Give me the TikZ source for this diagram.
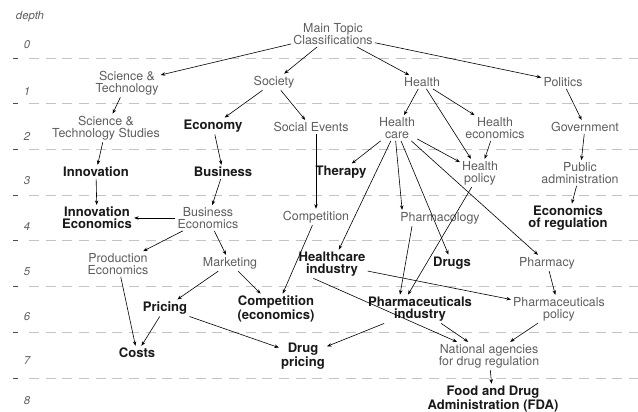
\documentclass[tikz,border=0pt]{standalone}
\usepackage{fontspec}
\setmainfont{TeX Gyre Heros}
\usetikzlibrary{arrows.meta}

\definecolor{topicgray}{HTML}{5E5E5E}
\definecolor{rulegray}{HTML}{C4C4C4}
\tikzset{
    topic/.style={text=topicgray, align=center, inner sep=1.5pt,
        font=\fontsize{9.3}{9}\selectfont},
    keytopic/.style={text=black!90, align=center, inner sep=1.5pt,
        font=\fontsize{9.8}{8.8}\selectfont\bfseries},
    link/.style={-{Stealth[length=3.4pt,width=2.6pt]}, line width=0.45pt},
    levelrule/.style={rulegray, line width=0.6pt, dash pattern=on 7.5pt off 5pt},
    depthlabel/.style={text=topicgray, font=\fontsize{8.5}{9}\selectfont\itshape}
}

\begin{document}
\begin{tikzpicture}[x=0.75pt, y=-0.75pt]
    \useasboundingbox (0,0) rectangle (638,411);

    % depth scale
    \node [depthlabel] (depth) at (30,17) {depth};
    \foreach \k/\y in {0/45, 1/91, 2/136, 3/181, 4/226, 5/272, 6/317, 7/361, 8/401}
        \node [depthlabel] (d\k) at (27,\y) {\k};
    \foreach \y in {58, 103.7, 149.4, 195, 240.8, 286.5, 332, 378} {
        \draw [levelrule] (29,\y) -- (638,\y);
        \draw [black!70, line width=0.6pt] (13,\y) -- (18,\y);
    }

    % depth 0 and 1
    \node [topic] (main) at (333,34) {Main Topic\\Classifications};
    \node [topic] (scitech) at (127,83) {Science \&\\Technology};
    \node [topic] (society) at (274,82) {Society};
    \node [topic] (health) at (422,82) {Health};
    \node [topic] (politics) at (563,82) {Politics};

    % depth 2
    \node [topic] (sts) at (106,128) {Science \&\\Technology Studies};
    \node [keytopic] (economy) at (213,126) {Economy};
    \node [topic] (socevents) at (311,127) {Social Events};
    \node [topic] (hcare) at (397,128) {Health\\care};
    \node [topic] (hecon) at (495,128) {Health\\economics};
    \node [topic] (govt) at (585,127) {Government};

    % depth 3
    \node [keytopic] (innov) at (96,172) {Innovation};
    \node [keytopic] (business) at (223,172) {Business};
    \node [keytopic] (therapy) at (341,172) {Therapy};
    \node [topic] (hpolicy) at (480,173) {Health\\policy};
    \node [topic] (padmin) at (580,173) {Public\\administration};

    % depth 4
    \node [keytopic] (innovecon) at (97,218) {Innovation\\Economics};
    \node [topic] (busecon) at (208,218) {Business\\Economics};
    \node [topic] (compet) at (316,217) {Competition};
    \node [topic] (pharmacol) at (440,218) {Pharmacology};
    \node [keytopic] (econreg) at (568,218) {Economics\\of regulation};

    % depth 5
    \node [topic] (prodecon) at (118,264) {Production\\Economics};
    \node [topic] (marketing) at (230,263) {Marketing};
    \node [keytopic] (hcind) at (332,264) {Healthcare\\industry};
    \node [keytopic] (drugs) at (452,263) {Drugs};
    \node [topic] (pharmacy) at (547,263) {Pharmacy};

    % depth 6
    \node [keytopic] (pricing) at (165,308) {Pricing};
    \node [keytopic] (competecon) at (276,309) {Competition\\(economics)};
    \node [keytopic] (phind) at (420,309) {Pharmaceuticals\\industry};
    \node [topic] (phpolicy) at (559,309) {Pharmaceuticals\\policy};

    % depth 7 and 8
    \node [keytopic] (costs) at (137,353) {Costs};
    \node [keytopic] (drugpricing) at (303,356) {Drug\\pricing};
    \node [topic] (natagency) at (489,356) {National agencies\\for drug regulation};
    \node [keytopic] (fda) at (493,399) {Food and Drug\\Administration (FDA)};

    % links
    \draw [link] (main) -- (scitech);
    \draw [link] (main) -- (society);
    \draw [link] (main) -- (health);
    \draw [link] (main) -- (politics);
    \draw [link] (scitech) -- (sts);
    \draw [link] (society) -- (economy);
    \draw [link] (society) -- (socevents);
    \draw [link] (health) -- (hcare);
    \draw [link] (health) -- (hpolicy);
    \draw [link] (health) -- (hecon);
    \draw [link] (politics) -- (govt);
    \draw [link] (sts) -- (innov);
    \draw [link] (economy) -- (business);
    \draw [link] (socevents.south -| compet.north) -- (compet);
    \draw [link] (hcare) -- (therapy);
    \draw [link] (hcare) -- (hpolicy);
    \draw [link] (hcare) -- (hcind);
    \draw [link] ([xshift=-1pt]hcare.south) -- ([xshift=3pt]pharmacol.north west);
    \draw [link] ([xshift=3pt]hcare.south) -- (drugs);
    \draw [link] (hcare) -- (pharmacy);
    \draw [link] (hecon) -- (hpolicy);
    \draw [link] (govt) -- (padmin);
    \draw [link] (innov) -- (innovecon);
    \draw [link] (business) -- (busecon);
    \draw [link] (busecon) -- (innovecon);
    \draw [link] (busecon) -- (prodecon);
    \draw [link] (busecon) -- (marketing);
    \draw [link] (compet) -- (competecon);
    \draw [link] ([xshift=-21pt]pharmacol.south) -- ([xshift=-15pt]phind.north);
    \draw [link] (hpolicy) -- ([xshift=-9pt]phind.north);
    \draw [link] (padmin) -- (econreg);
    \draw [link] (prodecon) -- (costs);
    \draw [link] (marketing) -- (pricing);
    \draw [link] (marketing) -- (competecon);
    \draw [link] (hcind) -- (phpolicy);
    \draw [link] ([xshift=-14pt]hcind.south) -- (natagency);
    \draw [link] (pharmacy) -- (phpolicy);
    \draw [link] (pricing) -- (costs);
    \draw [link] (pricing) -- (drugpricing);
    \draw [link] (phind) -- (drugpricing);
    \draw [link] (phind) -- (natagency);
    \draw [link] (phpolicy) -- (natagency);
    \draw [link] (natagency) -- (fda);
\end{tikzpicture}
\end{document}
